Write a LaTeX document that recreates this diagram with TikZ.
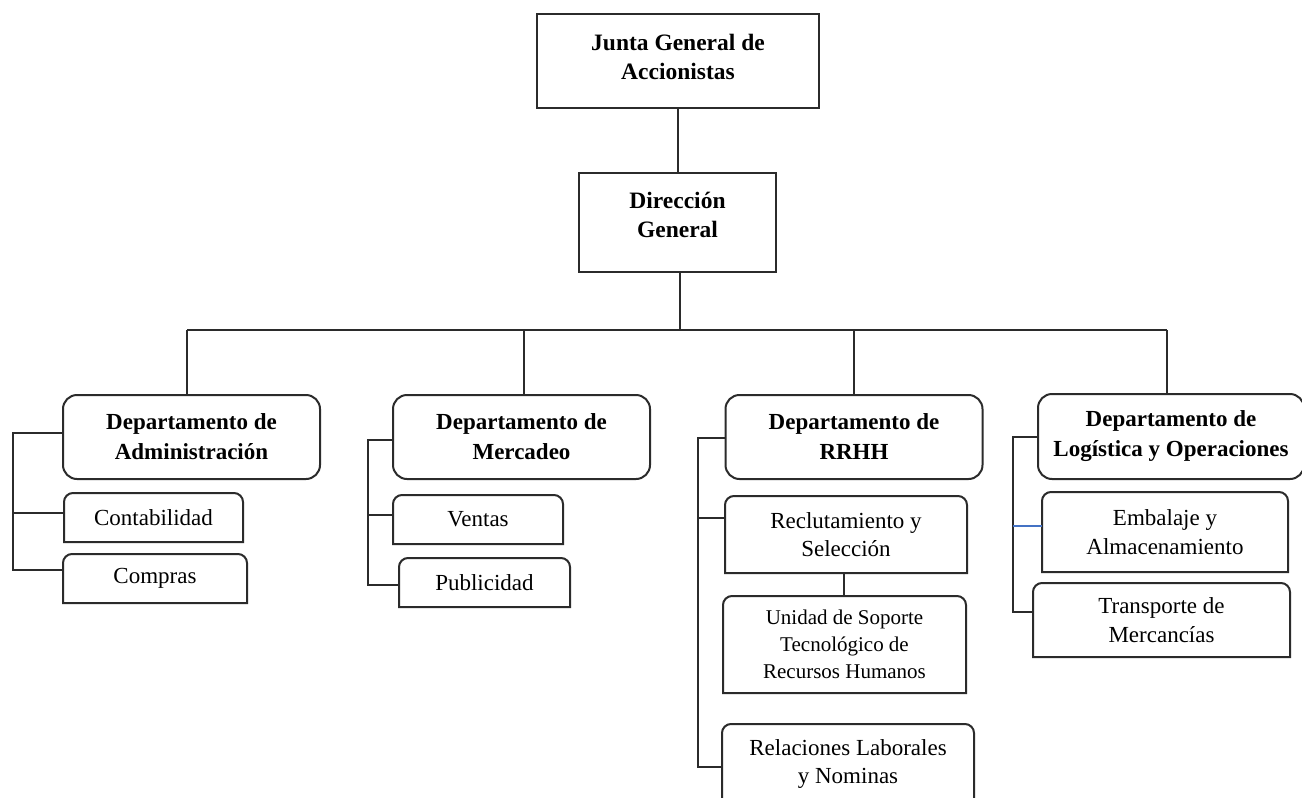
\documentclass[tikz,border=0pt]{standalone}
\usepackage{fontspec}
\setmainfont{Liberation Serif}
\definecolor{lc}{HTML}{2B2B2B}
\definecolor{bl}{HTML}{4472C4}
\newcommand\roundtopbox[2][9pt]{%
  \draw[ln] (#2.south west) -- ([yshift=-#1]#2.north west)
    arc[start angle=180,end angle=90,radius=#1]
    -- ([xshift=-#1]#2.north east)
    arc[start angle=90,end angle=0,radius=#1]
    -- (#2.south east) -- cycle;}
\begin{document}
\begin{tikzpicture}[x=1pt,y=1pt,
  ln/.style={draw=lc,line width=2pt},
  topbox/.style={draw=lc,line width=2pt,rectangle,inner sep=0pt,outer sep=0pt},
  toptext/.style={inner sep=0pt,align=center,font=\bfseries\fontsize{23.5}{29}\selectfont},
  deptbox/.style={draw=lc,line width=2pt,rounded corners=14pt,inner sep=0pt,outer sep=0pt,
    align=center,font=\bfseries\fontsize{23}{30}\selectfont},
  subbox/.style={inner sep=0pt,outer sep=0pt,align=center,font=\fontsize{23}{28.5}\selectfont},
  smallbox/.style={inner sep=0pt,outer sep=0pt,align=center,font=\fontsize{21}{27}\selectfont}]
\clip (0,0) rectangle (1302,-798);
\fill[white] (0,0) rectangle (1302,-798);

% top
\node[topbox,minimum width=282pt,minimum height=94pt] (junta) at (678,-61) {};
\node[toptext] (juntaT) at ([yshift=4pt]junta.center) {Junta General de\\Accionistas};
\node[topbox,minimum width=197pt,minimum height=99pt] (dir) at (677.5,-222.5) {};
\node[toptext] (dirT) at ([yshift=8pt]dir.center) {Dirección\\General};

% departments
\node[deptbox,minimum width=257pt,minimum height=84pt] (adm) at (191.5,-437) {Departamento de\\Administración};
\node[deptbox,minimum width=257pt,minimum height=84pt] (mer) at (521.5,-437) {Departamento de\\Mercadeo};
\node[deptbox,minimum width=257pt,minimum height=84pt] (rh) at (854,-437) {Departamento de\\RRHH};
\node[deptbox,minimum width=266pt,minimum height=85pt] (log) at (1171,-436.5) {Departamento de\\Logística y Operaciones};

% sub units
\node[subbox,minimum width=179pt,minimum height=49pt] (conta) at (153.5,-517.5) {Contabilidad};
\node[subbox,minimum width=184pt,minimum height=49pt] (comp) at (155,-578.5) {Compras};
\node[subbox,minimum width=170pt,minimum height=49pt] (ven) at (478,-519.5) {Ventas};
\node[subbox,minimum width=171pt,minimum height=49pt] (pub) at (484.5,-582.5) {Publicidad};
\node[subbox,minimum width=242pt,minimum height=77pt] (rec) at (846,-534.5) {Reclutamiento y\\Selección};
\node[smallbox,minimum width=243pt,minimum height=97pt] (uni) at (844.5,-644.5) {Unidad de Soporte\\Tecnológico de\\Recursos Humanos};
\node[subbox,minimum width=252pt,minimum height=80pt] (rel) at (848,-764) {Relaciones Laborales\\y Nominas};
\node[subbox,minimum width=246pt,minimum height=80pt] (emb) at (1165,-532) {Embalaje y\\Almacenamiento};
\node[subbox,minimum width=257pt,minimum height=74pt] (tra) at (1161.5,-620) {Transporte de\\Mercancías};

\foreach \n in {conta,comp,ven,pub,rec,uni,rel,emb,tra} {\roundtopbox{\n}}

% main connectors
\coordinate (busY) at (0,-330);
\draw[ln] (junta.south) -- (junta.south |- dir.north);
\draw[ln] ([xshift=2.5pt]dir.south) -- ([xshift=2.5pt]dir.south |- busY);
\draw[ln] ([xshift=-4.5pt]adm.north |- busY) -- ([xshift=-4pt]log.north |- busY);
\draw[ln] ([xshift=-4.5pt]adm.north) -- ([xshift=-4.5pt]adm.north |- busY);
\draw[ln] ([xshift=2.5pt]mer.north) -- ([xshift=2.5pt]mer.north |- busY);
\draw[ln] (rh.north) -- (rh.north |- busY);
\draw[ln] ([xshift=-4pt]log.north) -- ([xshift=-4pt]log.north |- busY);

% Administración
\coordinate (ar) at (13,0);
\draw[ln] ([yshift=4pt]adm.west) -- ([yshift=4pt]adm.west -| ar) |- ([yshift=8.5pt]comp.west);
\draw[ln] ([yshift=4.5pt]conta.west) -- ([yshift=4.5pt]conta.west -| ar);

% Mercadeo
\coordinate (mr) at (368,0);
\draw[ln] ([yshift=-3pt]mer.west) -- ([yshift=-3pt]mer.west -| mr) |- ([yshift=-2.5pt]pub.west);
\draw[ln] ([yshift=4.5pt]ven.west) -- ([yshift=4.5pt]ven.west -| mr);

% RRHH
\coordinate (rr) at (698,0);
\draw[ln] ([yshift=-1pt]rh.west) -- ([yshift=-1pt]rh.west -| rr) |- ([yshift=-3pt]rel.west);
\draw[ln] ([yshift=16.5pt]rec.west) -- ([yshift=16.5pt]rec.west -| rr);
\draw[ln] ([xshift=-2pt]rec.south) -- ([xshift=-2pt]rec.south |- uni.north);

% Logística
\coordinate (lr) at (1013,0);
\draw[ln] (log.west) -- (log.west -| lr) |- ([yshift=8pt]tra.west);
\draw[draw=bl,line width=1.1pt] ([yshift=6pt]emb.west) -- ([yshift=6pt]emb.west -| lr);
\end{tikzpicture}
\end{document}
